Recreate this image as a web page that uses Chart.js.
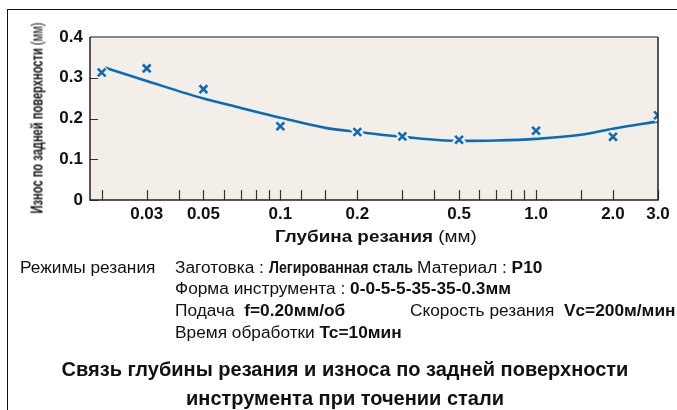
<!DOCTYPE html>
<html lang="ru">
<head>
<meta charset="utf-8">
<script src="https://cdn.jsdelivr.net/npm/chart.js@4.4.0/dist/chart.umd.min.js"></script>
<style>
  body { margin: 0; background: #fff; font-family: "Liberation Sans", Arial, sans-serif; color: #111; }
  #wrap { position: relative; width: 677px; height: 410px; overflow: hidden; }
  #frame { position: absolute; left: 7px; top: 9px; right: -5px; bottom: -5px; border-left: 1px solid #111; border-top: 1px solid #111; }
  #chart { position: absolute; left: 0; top: 0; }
  .txt { position: absolute; white-space: nowrap; font-size: 16px; line-height: 20px; transform: scaleX(1.08); transform-origin: left center; }
  .fit { display: inline-block; white-space: nowrap; vertical-align: bottom; }
  .fit > span { display: inline-block; transform-origin: left center; }
  #ytitle { position: absolute; left: -58px; top: 108px; width: 191px; height: 20px; font-size: 17px; line-height: 20px;
            transform: rotate(-90deg); }
  #xtitle { position: absolute; left: 275px; top: 227px; font-size: 17px; line-height: 20px; }
  .title { position: absolute; left: 345px; transform: translateX(-50%); white-space: nowrap; font-size: 20px; font-weight: bold; line-height: 24px; }
</style>
</head>
<body>
<div id="wrap">
  <div id="frame"></div>
  <canvas id="chart" width="677" height="410"></canvas>

  <div id="ytitle" class="fit" data-fit="191"><span><b>Износ по задней поверхности</b> (мм)</span></div>
  <div id="xtitle" class="fit" data-fit="202"><span><b>Глубина резания</b> (мм)</span></div>

  <div class="txt" style="left:20px; top:258px;">Режимы резания</div>
  <div class="txt" style="left:175px; top:258px;">Заготовка : <span class="fit" data-fit="133"><span><b>Легированная сталь</b></span></span> Материал : <b>P10</b></div>
  <div class="txt" style="left:175px; top:279px;">Форма инструмента : <b>0-0-5-5-35-35-0.3мм</b></div>
  <div class="txt" style="left:175px; top:301px;">Подача&nbsp; <b>f=0.20мм/об</b></div>
  <div class="txt" style="left:410px; top:301px;">Скорость резания&nbsp; <b>Vc=200м/мин</b></div>
  <div class="txt" style="left:175px; top:323px;">Время обработки <b>Tc=10мин</b></div>

  <div class="title" style="top:357px;">Связь глубины резания и износа по задней поверхности</div>
  <div class="title" style="top:386px;">инструмента при точении стали</div>
</div>

<script>
// measured flank wear vs depth of cut
const depth = [0.02, 0.03, 0.05, 0.1, 0.2, 0.3, 0.5, 1.0, 2.0, 3.0];
const wear = [0.313, 0.323, 0.272, 0.181, 0.167, 0.156, 0.148, 0.170, 0.155, 0.208];

// fitted trend curve
const curveDepth = [0.0205, 0.03, 0.05, 0.07, 0.1, 0.15, 0.2, 0.3, 0.5, 0.7, 1.0, 1.5, 2.0, 3.0];
const curveWear = [0.325, 0.292, 0.249, 0.226, 0.202, 0.177, 0.167, 0.155, 0.145, 0.146, 0.150, 0.160, 0.175, 0.193];

// axis ticks
const xTickValues = [0.02, 0.03, 0.04, 0.05, 0.06, 0.07, 0.08, 0.09, 0.1, 0.12, 0.15,
                     0.2, 0.3, 0.4, 0.5, 0.6, 0.7, 0.8, 0.9, 1.0, 1.5, 2.0, 3.0];
const xLabelValues = [0.03, 0.05, 0.1, 0.2, 0.5, 1.0, 2.0, 3.0];
const xLabelTexts = ['0.03', '0.05', '0.1', '0.2', '0.5', '1.0', '2.0', '3.0'];
const yTickValues = [0, 0.1, 0.2, 0.3, 0.4];
const yTickLabels = ['0', '0.1', '0.2', '0.3', '0.4'];

const BLUE = '#0b6cb5';
const PLOT_BG = '#f3efe8';

const toPoints = (xs, ys) => xs.map((x, i) => ({ x: x, y: ys[i] }));

// squeeze/stretch text blocks to their target width
document.querySelectorAll('[data-fit]').forEach(el => {
    const inner = el.firstElementChild;
    const target = +el.dataset.fit;
    inner.style.transform = 'scaleX(' + (target / inner.offsetWidth) + ')';
    el.style.width = target + 'px';
});

// background, inner tick marks and frame of the plot area
const plotFrame = {
    id: 'plotFrame',
    beforeDraw(chart) {
        const { ctx, chartArea: a } = chart;
        ctx.save();
        ctx.fillStyle = PLOT_BG;
        ctx.fillRect(a.left, a.top, a.right - a.left, a.bottom - a.top);
        ctx.restore();
    },
    afterDraw(chart) {
        const { ctx, chartArea: a, scales: { x, y } } = chart;
        ctx.save();
        ctx.strokeStyle = '#333';
        ctx.lineWidth = 1.2;
        ctx.beginPath();
        xTickValues.forEach(v => {
            const px = Math.round(x.getPixelForValue(v)) + 0.5;
            ctx.moveTo(px, a.bottom);
            ctx.lineTo(px, a.bottom - 10);
        });
        yTickValues.forEach(v => {
            const py = Math.round(y.getPixelForValue(v)) + 0.5;
            ctx.moveTo(a.left, py);
            ctx.lineTo(a.left + 8, py);
        });
        ctx.stroke();

        ctx.lineWidth = 2;
        ctx.strokeStyle = '#888';
        ctx.beginPath();
        ctx.moveTo(a.left, a.top);
        ctx.lineTo(a.right, a.top);
        ctx.stroke();

        ctx.strokeStyle = '#222';
        ctx.lineWidth = 1.5;
        ctx.beginPath();
        ctx.moveTo(a.right, a.top);
        ctx.lineTo(a.right, a.bottom);
        ctx.lineTo(a.left, a.bottom);
        ctx.lineTo(a.left, a.top);
        ctx.stroke();
        ctx.restore();
    }
};

Chart.defaults.font.family = '"Liberation Sans", Arial, sans-serif';
Chart.defaults.color = '#111';

new Chart(document.getElementById('chart'), {
    type: 'scatter',
    data: {
        datasets: [{
            label: 'Измерения',
            data: toPoints(depth, wear),
            pointStyle: 'crossRot',
            pointRadius: 5.5,
            pointBorderWidth: 2.6,
            borderColor: BLUE,
            backgroundColor: BLUE,
            showLine: false,
            order: 0
        }, {
            label: 'halo',
            data: toPoints(depth, wear),
            pointStyle: 'crossRot',
            pointRadius: 6.5,
            pointBorderWidth: 7,
            borderColor: PLOT_BG,
            backgroundColor: PLOT_BG,
            showLine: false,
            order: 1
        }, {
            label: 'Тренд',
            data: toPoints(curveDepth, curveWear),
            showLine: true,
            borderColor: BLUE,
            borderWidth: 2.6,
            pointRadius: 0,
            cubicInterpolationMode: 'monotone',
            order: 2
        }]
    },
    options: {
        responsive: false,
        animation: false,
        layout: { padding: { left: 0, top: 37, right: 19, bottom: 0 } },
        plugins: {
            legend: { display: false },
            tooltip: { enabled: false }
        },
        scales: {
            x: {
                type: 'logarithmic',
                min: 0.018,
                max: 3.0,
                grid: { display: true, drawOnChartArea: false, drawTicks: false },
                border: { display: false },
                afterBuildTicks: scale => { scale.ticks = xTickValues.map(v => ({ value: v })); },
                afterFit: scale => { scale.height = 210; },
                ticks: {
                    autoSkip: false,
                    maxRotation: 0,
                    padding: 4,
                    font: { size: 17, weight: 'bold' },
                    callback: value => {
                        const k = xLabelValues.indexOf(value);
                        return k >= 0 ? xLabelTexts[k] : '';
                    }
                }
            },
            y: {
                min: 0,
                max: 0.4,
                grid: { display: true, drawOnChartArea: false, drawTicks: false },
                border: { display: false },
                afterBuildTicks: scale => { scale.ticks = yTickValues.map(v => ({ value: v })); },
                afterFit: scale => { scale.width = 90; },
                ticks: {
                    padding: 7,
                    font: { size: 17, weight: 'bold' },
                    callback: (value, index) => yTickLabels[index]
                }
            }
        }
    },
    plugins: [plotFrame]
});
</script>
</body>
</html>
